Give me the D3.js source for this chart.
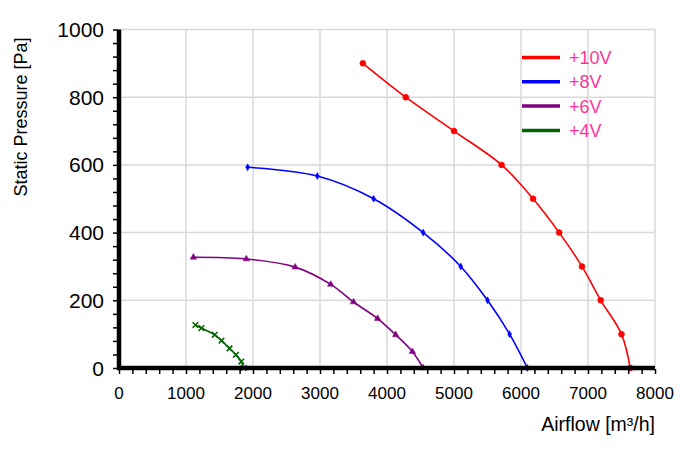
<!DOCTYPE html>
<html>
<head>
<meta charset="utf-8">
<script src="https://cdn.jsdelivr.net/npm/d3@7"></script>
<style>
  body { margin: 0; background: #fff; }
  text { font-family: "Liberation Sans", Arial, sans-serif; }
</style>
</head>
<body>
<svg id="chart" width="700" height="452"></svg>
<script>
const seriesNames = ["+10V", "+8V", "+6V", "+4V"];
const seriesColors = ["#ff0000", "#0000ff", "#800080", "#006400"];
const markerTypes = ["circle", "diamond", "triangle", "cross"];

const flow10 = [3640, 4280, 5000, 5710, 6180, 6570, 6910, 7190, 7500, 7630];
const pres10 = [900, 800, 700, 600, 500, 400, 300, 200, 100, 0];
const flow8 = [1920, 2960, 3800, 4540, 5100, 5500, 5830, 6095];
const pres8 = [593, 567, 500, 400, 300, 200, 100, 0];
const flow6 = [1110, 1900, 2630, 3160, 3500, 3860, 4130, 4380, 4540];
const pres6 = [327, 322, 298, 247, 195, 146, 98, 48, 0];
const flow4 = [1140, 1230, 1430, 1530, 1650, 1745, 1825, 1860];
const pres4 = [127, 118, 98, 81, 58, 39, 19, 0];

const xTicks = [0, 1000, 2000, 3000, 4000, 5000, 6000, 7000, 8000];
const yTicks = [0, 200, 400, 600, 800, 1000];

const flows = [flow10, flow8, flow6, flow4];
const pressures = [pres10, pres8, pres6, pres4];
const series = seriesNames.map((name, i) => ({
    name,
    color: seriesColors[i],
    marker: markerTypes[i],
    points: flows[i].map((f, j) => [f, pressures[i][j]])
}));

const svg = d3.select("#chart");
const x = d3.scaleLinear().domain([0, 8000]).range([119, 655]);
const y = d3.scaleLinear().domain([0, 1000]).range([368, 29.5]);

// grid
svg.append("g").selectAll("line").data(xTicks.slice(1)).join("line")
    .attr("x1", d => x(d)).attr("x2", d => x(d))
    .attr("y1", y(0)).attr("y2", y(1000))
    .attr("stroke", "#d9d9d9").attr("stroke-width", 1.5);
svg.append("g").selectAll("line").data(yTicks.slice(1)).join("line")
    .attr("x1", x(0)).attr("x2", x(8000))
    .attr("y1", d => y(d)).attr("y2", d => y(d))
    .attr("stroke", "#d9d9d9").attr("stroke-width", 1.5);

// curves
const line = d3.line()
    .x(d => x(d[0]))
    .y(d => y(d[1]))
    .curve(d3.curveCatmullRom.alpha(0.5));

const symbolFor = {
    circle: d3.symbol().type(d3.symbolCircle).size(28),
    diamond: d3.symbol().type(d3.symbolDiamond).size(14),
    triangle: d3.symbol().type(d3.symbolTriangle).size(18),
    cross: d3.symbol().type(d3.symbolTimes).size(22)
};

series.forEach(s => {
    svg.append("path")
        .datum(s.points)
        .attr("d", line)
        .attr("fill", "none")
        .attr("stroke", s.color)
        .attr("stroke-width", 1.6);

    const isStroke = s.marker === "cross";
    svg.append("g").selectAll("path").data(s.points).join("path")
        .attr("transform", d => `translate(${x(d[0])},${y(d[1])})`)
        .attr("d", symbolFor[s.marker])
        .attr("fill", isStroke ? "none" : s.color)
        .attr("stroke", s.color)
        .attr("stroke-width", isStroke ? 1.6 : 0.5);
});

// axes (minor ticks only, labels drawn separately)
const xAxis = d3.axisBottom(x)
    .tickValues(d3.range(0, 8001, 200))
    .tickSize(5)
    .tickFormat("");
const gx = svg.append("g").attr("transform", `translate(0,${y(0) + 1})`).call(xAxis);
gx.select(".domain").remove();
gx.selectAll(".tick line").attr("stroke-width", 1.5);

const yAxis = d3.axisLeft(y)
    .tickValues(d3.range(0, 1001, 40))
    .tickSize(5)
    .tickFormat("");
const gy = svg.append("g").attr("transform", `translate(${x(0) - 1},0)`).call(yAxis);
gy.select(".domain").remove();
gy.selectAll(".tick line").attr("stroke-width", 1.5);

// thick axis lines
svg.append("line")
    .attr("x1", x(0)).attr("x2", x(0))
    .attr("y1", y(1000)).attr("y2", y(0) + 2)
    .attr("stroke", "#000").attr("stroke-width", 4.5);
svg.append("line")
    .attr("x1", x(0) - 2).attr("x2", x(8000))
    .attr("y1", y(0)).attr("y2", y(0))
    .attr("stroke", "#000").attr("stroke-width", 4.5);

// tick labels
svg.append("g").selectAll("text").data(xTicks).join("text")
    .attr("x", d => x(d))
    .attr("y", 399)
    .attr("text-anchor", "middle")
    .attr("font-size", 17)
    .attr("fill", "#000")
    .text(d => d);
svg.append("g").selectAll("text").data(yTicks).join("text")
    .attr("x", 104)
    .attr("y", d => y(d) + 7.5)
    .attr("text-anchor", "end")
    .attr("font-size", 21)
    .attr("fill", "#000")
    .text(d => d);

// axis titles
svg.append("text")
    .attr("transform", "translate(27,117) rotate(-90)")
    .attr("text-anchor", "middle")
    .attr("font-size", 18)
    .text("Static Pressure [Pa]");
svg.append("text")
    .attr("x", 655)
    .attr("y", 431)
    .attr("text-anchor", "end")
    .attr("font-size", 19.5)
    .text("Airflow [m³/h]");

// legend
const legend = svg.append("g").selectAll("g").data(series).join("g")
    .attr("transform", (d, i) => `translate(522,${57.5 + i * 24.3})`);
legend.append("line")
    .attr("x1", 0).attr("x2", 38)
    .attr("stroke", d => d.color)
    .attr("stroke-width", 3.5);
legend.append("text")
    .attr("x", 47)
    .attr("y", 6.5)
    .attr("font-size", 18)
    .attr("fill", "#ff3399")
    .text(d => d.name);
</script>
</body>
</html>
